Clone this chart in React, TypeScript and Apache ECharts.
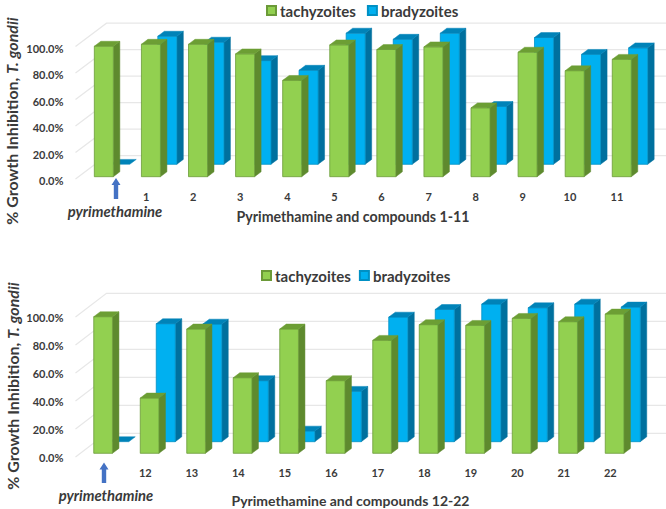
import React, { useEffect, useRef } from "react";
import * as echarts from "echarts";

const categoriesTop = ["", "1", "2", "3", "4", "5", "6", "7", "8", "9", "10", "11"];
const tachyzoitesTop = [98.5, 100, 100, 92.7, 72.7, 99.5, 96, 98, 52, 94, 80, 88.6];
const bradyzoitesTop = [0, 96.7, 92.2, 78.3, 71, 99, 94.4, 99, 43.7, 95.7, 83, 87.9];

const categoriesBottom = ["", "12", "13", "14", "15", "16", "17", "18", "19", "20", "21", "22"];
const tachyzoitesBottom = [97.6, 39.5, 88.8, 54, 88.8, 51.9, 80.7, 91.9, 91.4, 96.4, 94, 99.5];
const bradyzoitesBottom = [0, 84.3, 84, 43.6, 7.6, 36, 89, 94.5, 98.3, 95.7, 98.3, 96.2];

const wallTicks = [0, 20, 40, 60, 80, 100];

const FONT = "Lato";
const TEXT = "#3a3a3a";
const GREEN = { face: "#92D050", side: "#5E8A2E", top: "#6C9E34", border: "#6B9A38" };
const BLUE = { face: "#00B0F0", side: "#00709E", top: "#0083B8", border: "#0090C4" };

function bar3d(c: typeof GREEN, x0: number, w: number, dy: number) {
  const dx = 6.5;
  const dz = 4.9;
  return (_: any, api: any) => {
    const p = api.coord([api.value(0), api.value(1)]);
    const b = api.coord([api.value(0), 0]);
    const l = p[0] + x0;
    const r = l + w;
    const t = p[1] + dy;
    const f = b[1] + dy;
    const children: any[] = [];
    if (f - t > 0.5) {
      children.push({
        type: "polygon",
        shape: { points: [[r, t], [r + dx, t - dz], [r + dx, f - dz], [r, f]] },
        style: { fill: c.side, stroke: c.side, lineWidth: 0.5 },
      });
      children.push({
        type: "rect",
        shape: { x: l, y: t, width: w, height: f - t },
        style: { fill: c.face, stroke: c.border, lineWidth: 0.8 },
      });
    }
    children.push({
      type: "polygon",
      shape: { points: [[l, t], [l + dx, t - dz], [r + dx, t - dz], [r, t]] },
      style: { fill: c.top, stroke: c.top, lineWidth: 0.5 },
    });
    return { type: "group", children };
  };
}

function wall(frontDy: number, backDy: number) {
  return (_: any, api: any) => {
    const p = api.coord([api.value(0), api.value(1)]);
    const left = p[0] - api.size([1, 0])[0] / 2;
    return {
      type: "polyline",
      shape: {
        points: [
          [left, p[1] + frontDy],
          [left + 31, p[1] + backDy],
          [api.getWidth(), p[1] + backDy],
        ],
      },
      style: { fill: "none", stroke: "#E7E7E7", lineWidth: 1.2 },
    };
  };
}

function seriesFor(
  idx: number,
  green: number[],
  blue: number[],
  g: { x: number; w: number; dy: number },
  b: { x: number; w: number; dy: number },
  frontDy: number,
  backDy: number,
) {
  const base = { type: "custom", xAxisIndex: idx, yAxisIndex: idx, clip: false, silent: true };
  return [
    {
      ...base,
      name: "wall" + idx,
      data: wallTicks.map((v) => [0, v]),
      encode: { x: 0, y: 1 },
      renderItem: wall(frontDy, backDy),
    },
    {
      ...base,
      name: "bradyzoites",
      itemStyle: { color: BLUE.face, borderColor: BLUE.border, borderWidth: 1 },
      data: blue.map((v, i) => [i, v]),
      encode: { x: 0, y: 1 },
      renderItem: bar3d(BLUE, b.x, b.w, b.dy),
    },
    {
      ...base,
      name: "tachyzoites",
      itemStyle: { color: GREEN.face, borderColor: GREEN.border, borderWidth: 1 },
      data: green.map((v, i) => [i, v]),
      encode: { x: 0, y: 1 },
      renderItem: bar3d(GREEN, g.x, g.w, g.dy),
    },
  ];
}

function xAxis(idx: number, cats: string[], title: string, gap: number, pad: number, margin: number, size: number) {
  return {
    type: "category",
    gridIndex: idx,
    data: cats,
    axisLine: { show: false },
    axisTick: { show: false },
    axisLabel: { fontFamily: FONT, fontSize: 11, fontWeight: "bold", color: TEXT, margin, interval: 0 },
    name: title,
    nameLocation: "middle",
    nameGap: gap,
    nameTextStyle: {
      fontFamily: FONT,
      fontSize: size,
      fontWeight: "bold",
      color: TEXT,
      padding: [0, pad, 0, 0],
    },
  };
}

function yAxis(idx: number) {
  return {
    type: "value",
    gridIndex: idx,
    min: 0,
    max: 100,
    interval: 20,
    splitLine: { show: false },
    axisLine: { show: false },
    axisTick: { show: false },
    axisLabel: {
      fontFamily: FONT,
      fontSize: 11,
      fontWeight: "bold",
      color: TEXT,
      margin: 12,
      formatter: (v: number) => v.toFixed(1) + "%",
    },
  };
}

function yTitle(x: number, y: number, size: number) {
  return {
    type: "text",
    x,
    y,
    rotation: Math.PI / 2,
    style: {
      text: "{a|% Growth Inhibition, }{b|T. gondii}",
      align: "center",
      verticalAlign: "middle",
      rich: {
        a: { fontFamily: FONT, fontSize: size, fontWeight: "bold", fill: TEXT },
        b: { fontFamily: FONT, fontSize: size, fontWeight: "bold", fontStyle: "italic", fill: TEXT },
      },
    },
  };
}

function legend(left: number, top: number, gap: number) {
  return {
    left,
    top,
    padding: 0,
    orient: "horizontal",
    icon: "rect",
    itemWidth: 9,
    itemHeight: 9,
    itemGap: gap,
    selectedMode: false,
    data: ["tachyzoites", "bradyzoites"],
    textStyle: { fontFamily: FONT, fontSize: 15, fontWeight: "bold", color: TEXT, padding: [0, 0, 0, -1] },
  };
}

function arrow(cx: number, top: number, bottom: number) {
  return {
    type: "polygon",
    shape: {
      points: [
        [cx, top],
        [cx + 4.5, top + 7],
        [cx + 2.2, top + 7],
        [cx + 2.2, bottom],
        [cx - 2.2, bottom],
        [cx - 2.2, top + 7],
        [cx - 4.5, top + 7],
      ],
    },
    style: { fill: "#4472C4" },
  };
}

function drugLabel(cx: number, cy: number) {
  return {
    type: "text",
    x: cx,
    y: cy,
    style: {
      text: "pyrimethamine",
      fontFamily: FONT,
      fontSize: 14.8,
      fontWeight: "bold",
      fontStyle: "italic",
      fill: TEXT,
      align: "center",
      verticalAlign: "middle",
    },
  };
}

export default function App() {
  const ref = useRef<HTMLDivElement>(null);
  useEffect(() => {
    const chart = echarts.init(ref.current!, undefined, { renderer: "svg" });
    chart.setOption({
      animation: false,
      backgroundColor: "#ffffff",
      legend: [legend(266, 3, 11), legend(261, 268, 8)],
      grid: [
        { left: 75.5, top: 48, width: 565, height: 132.5, outerBoundsMode: "none" },
        { left: 75.5, top: 317, width: 558, height: 140, outerBoundsMode: "none" },
      ],
      xAxis: [
        xAxis(0, categoriesTop, "Pyrimethamine and compounds 1-11", 29, 10, 10.5, 14.2),
        xAxis(1, categoriesBottom, "Pyrimethamine and compounds 12-22", 36, 8, 10, 14),
      ],
      yAxis: [yAxis(0), yAxis(1)],
      series: [
        ...seriesFor(0, tachyzoitesTop, bradyzoitesTop, { x: -4.7, w: 19, dy: -3.8 }, { x: 11.7, w: 19, dy: -16.2 }, -1.5, -24.8),
        ...seriesFor(1, tachyzoitesBottom, bradyzoitesBottom, { x: -5, w: 18.7, dy: -3.7 }, { x: 11, w: 19, dy: -15.3 }, 0, -23.7),
      ],
      graphic: [
        yTitle(11.5, 121, 16),
        yTitle(12.5, 386, 16),
        arrow(116, 178, 199),
        arrow(104, 462.5, 483),
        drugLabel(115, 211),
        drugLabel(106, 495),
      ],
    });
    return () => chart.dispose();
  }, []);
  return <div ref={ref} style={{ position: "fixed", left: 0, top: 0, width: 666, height: 509 }} />;
}
